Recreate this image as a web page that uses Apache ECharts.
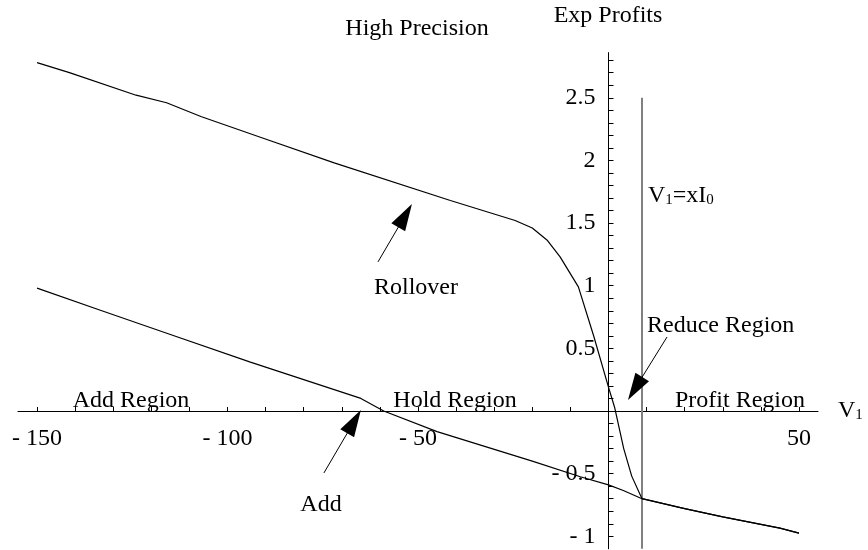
<!DOCTYPE html>
<html><head><meta charset="utf-8">
<script src="https://cdn.jsdelivr.net/npm/echarts@6/dist/echarts.min.js"></script>
<style>html,body{margin:0;padding:0;background:#fff}#c{width:868px;height:550px}</style>
</head><body><div id="c"></div>
<script>
// ---- data ----
const rolloverX = [-150, -141.5, -124, -116, -107, -91, -72, -41.5, -24.5, -20, -16, -12.7, -7.9, -3.9, 0, 1.6, 4, 6.1, 8.8, 20, 30, 40, 45, 50];
const rolloverY = [2.78, 2.70, 2.52, 2.46, 2.35, 2.18, 1.98, 1.68, 1.52, 1.46, 1.36, 1.23, 0.99, 0.60, 0.19, 0.03, -0.30, -0.52, -0.70, -0.78, -0.845, -0.905, -0.935, -0.975];
const addX = [-150, -133, -115, -94, -80, -65, -59, -45, -20, -7.4, 0, 3.9, 8.8, 20, 30, 40, 45, 50];
const addY = [0.98, 0.80, 0.61, 0.39, 0.25, 0.10, 0.0, -0.165, -0.40, -0.525, -0.59, -0.635, -0.70, -0.78, -0.845, -0.905, -0.935, -0.975];
const thresholdX = 8.8;          // V1 = x I0
const thresholdYRange = [-1.1, 2.5];
const xLabelValues = [-150, -100, -50, 50];
const yLabelValues = [-1, -0.5, 0.5, 1, 1.5, 2, 2.5];
// arrows: [tail, tip] in data coordinates
const arrowRollover = [[-60.5, 1.19], [-51.6, 1.652]];
const arrowAdd = [[-74.7, -0.495], [-65.0, 0.008]];
const arrowReduce = [[15.36, 0.59], [5.12, 0.088]];

// ---- chart ----
const F = '"Liberation Serif","Times New Roman",serif';
const zip = (xs, ys) => xs.map((x, i) => [x, ys[i]]);
const fmt = v => (v < 0 ? '- ' + (-v) : '' + v);
const chart = echarts.init(document.getElementById('c'), null, {renderer: 'canvas'});

function txt(text, x, y, align, extra) {
  return Object.assign({type: 'text', x: x, y: y, silent: true,
    style: Object.assign({text: text, fontSize: 24, fontFamily: F, fill: '#000',
      align: align, verticalAlign: 'middle', textAlign: align, textVerticalAlign: 'middle'}, extra || {})});
}
const sub = {
  a: {fontSize: 24, fontFamily: F, color: '#000', verticalAlign: 'bottom', lineHeight: 24},
  s: {fontSize: 15, fontFamily: F, color: '#000', verticalAlign: 'bottom', lineHeight: 10}
};
const NB = {outerBoundsMode: 'none', containLabel: false};

const option = {
  animation: false,
  backgroundColor: '#fff',
  grid: [
    Object.assign({left: 18, right: 50, top: 52.6, bottom: 1.2}, NB),      // data (x: -155..55, y: -1.1..2.86)
    Object.assign({left: 37.05, right: 69.05, top: 52.6, bottom: 139}, NB), // x ticks, bottom edge at y=0
    Object.assign({left: 608.5, right: 50, top: 60.2, bottom: 13.7}, NB)    // y ticks, left edge at x=0
  ],
  xAxis: [
    {gridIndex: 0, type: 'value', min: -155, max: 55,
     axisLine: {onZero: true, lineStyle: {color: '#000', width: 1}},
     axisTick: {show: false}, axisLabel: {show: false}, splitLine: {show: false}},
    {gridIndex: 1, type: 'value', min: -150, max: 50, interval: 10, position: 'bottom',
     axisLine: {show: false, onZero: false},
     axisTick: {show: true, inside: true, length: 4, lineStyle: {color: '#000', width: 1}},
     axisLabel: {margin: 16, fontFamily: F, fontSize: 24, color: '#000', showMinLabel: true, showMaxLabel: true,
       formatter: v => xLabelValues.indexOf(Math.round(v)) >= 0 ? fmt(Math.round(v)) : ''},
     splitLine: {show: false}},
    {gridIndex: 2, type: 'value', min: 0, max: 10, show: false}
  ],
  yAxis: [
    {gridIndex: 0, type: 'value', min: -1.1, max: 2.86,
     axisLine: {onZero: true, lineStyle: {color: '#000', width: 1}},
     axisTick: {show: false}, axisLabel: {show: false}, splitLine: {show: false}},
    {gridIndex: 1, type: 'value', min: 0, max: 1, show: false},
    {gridIndex: 2, type: 'value', min: -1, max: 2.8, interval: 0.1, position: 'left',
     axisLine: {show: false, onZero: false},
     axisTick: {show: true, inside: true, length: 5, lineStyle: {color: '#000', width: 1}},
     axisLabel: {margin: 13, fontFamily: F, fontSize: 24, color: '#000', showMinLabel: true, showMaxLabel: true,
       formatter: v => { const r = Math.round(v * 10) / 10; return yLabelValues.indexOf(r) >= 0 ? fmt(r) : ''; }},
     splitLine: {show: false}}
  ],
  series: [
    {type: 'line', name: 'Rollover', xAxisIndex: 0, yAxisIndex: 0, data: zip(rolloverX, rolloverY),
     symbol: 'none', lineStyle: {color: '#000', width: 1.2}, z: 3},
    {type: 'line', name: 'Add', xAxisIndex: 0, yAxisIndex: 0, data: zip(addX, addY),
     symbol: 'none', lineStyle: {color: '#000', width: 1.2}, z: 3},
    {type: 'line', name: 'threshold', xAxisIndex: 0, yAxisIndex: 0,
     data: [[thresholdX, thresholdYRange[0]], [thresholdX, thresholdYRange[1]]],
     symbol: 'none', lineStyle: {color: '#808080', width: 2}, z: 2}
  ],
  graphic: [
    txt('High Precision', 417, 29, 'center'),
    txt('Exp Profits', 608, 16, 'center'),
    txt('Add Region', 131, 401, 'center'),
    txt('Hold Region', 455, 401, 'center'),
    txt('Profit Region', 740, 401, 'center'),
    txt('Rollover', 374, 288, 'left'),
    txt('Reduce Region', 647, 326, 'left'),
    txt('Add', 321, 505, 'center'),
    txt('{a|V}{s|1}{a|=xI}{s|0}', 648, 196, 'left', {rich: sub}),
    txt('{a|V}{s|1}', 838, 411, 'left', {rich: sub})
  ]
};
chart.setOption(option);

// arrows: place triangle so its tip lands on the tip point
const HEAD_LEN = 27;
function arrowItem(a) {
  const p0 = chart.convertToPixel({gridIndex: 0}, a[0]);
  const p1 = chart.convertToPixel({gridIndex: 0}, a[1]);
  const dx = p1[0] - p0[0], dy = p1[1] - p0[1], L = Math.hypot(dx, dy);
  const c = [p1[0] - dx / L * HEAD_LEN / 2, p1[1] - dy / L * HEAD_LEN / 2];
  const cd = chart.convertFromPixel({gridIndex: 0}, c);
  return [{coord: a[0]}, {coord: cd}];
}
chart.setOption({
  series: [{}, {}, {
    markLine: {
      silent: true, animation: false,
      symbol: ['none', 'path://M8,0 L16,27 L0,27 Z M-5.5,0 L-5.5,0 M21.5,27 L21.5,27'],
      symbolSize: [HEAD_LEN, HEAD_LEN],
      label: {show: false},
      emphasis: {disabled: true},
      lineStyle: {color: '#000', width: 1, type: 'solid'},
      itemStyle: {color: '#000'},
      data: [arrowItem(arrowRollover), arrowItem(arrowAdd), arrowItem(arrowReduce)]
    }
  }]
});
</script></body></html>
